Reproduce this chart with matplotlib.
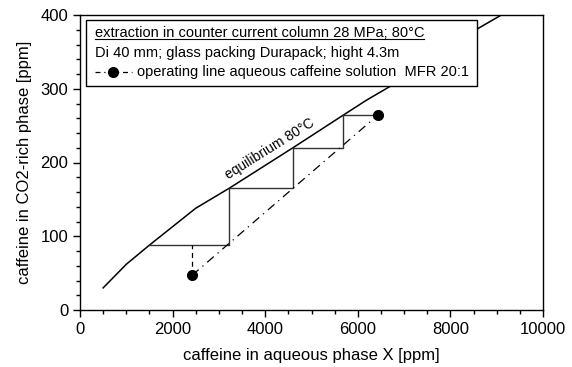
import matplotlib
matplotlib.use('Agg')
import matplotlib.pyplot as plt
from matplotlib.lines import Line2D
from matplotlib.patches import Rectangle
from matplotlib.ticker import MultipleLocator

plt.rcParams['font.family'] = ['Liberation Sans', 'DejaVu Sans']

# equilibrium curve 80 C
eq_x = [500, 1000, 1500, 2500, 3220, 4600, 5680, 6200, 6720, 8550, 9100, 9300]
eq_y = [30, 62, 88, 138, 165, 220, 264, 285, 304, 380, 400, 408]

# operating line (end points)
op_x = [2420, 6430]
op_y = [47, 264]

# McCabe-Thiele style steps
step_x = [1500, 3220, 3220, 4600, 4600, 5680, 5680, 6430]
step_y = [88, 88, 165, 165, 220, 220, 264, 264]

# dashed connector from lower point
conn_x = [2420, 2420]
conn_y = [47, 88]

fig = plt.figure(figsize=(5.72, 3.67), dpi=100)
ax = fig.add_axes([80 / 572, 1 - 310 / 367, 463 / 572, 295 / 367])

ax.plot(eq_x, eq_y, color='black', lw=1.1)
ax.plot(step_x, step_y, color='#333333', lw=1.0)
ax.plot(conn_x, conn_y, color='black', lw=0.9, ls=(0, (4, 3)))
ax.plot(op_x, op_y, color='black', lw=0.9, ls=(0, (7, 4, 1, 4)))
ax.plot(op_x, op_y, 'o', color='black', ms=7)

ax.text(4180, 211, 'equilibrium 80°C', rotation=32, rotation_mode='anchor',
        ha='center', va='bottom', fontsize=10)

ax.set_xlim(0, 10000)
ax.set_ylim(0, 400)
ax.xaxis.set_major_locator(MultipleLocator(2000))
ax.xaxis.set_minor_locator(MultipleLocator(500))
ax.yaxis.set_major_locator(MultipleLocator(100))
ax.yaxis.set_minor_locator(MultipleLocator(20))
ax.tick_params(which='major', direction='out', length=5, width=1, labelsize=12)
ax.tick_params(which='minor', direction='out', length=3, width=1)
for s in ax.spines.values():
    s.set_linewidth(1.0)

ax.set_xlabel('caffeine in aqueous phase X [ppm]', fontsize=12, labelpad=8)
ax.set_ylabel('caffeine in CO2-rich phase [ppm]', fontsize=12, labelpad=6)

# info box (pixel coords of figure)
W, H = 572, 367
box = Rectangle((86 / W, 1 - 86 / H), (477 - 86) / W, (86 - 20) / H,
                transform=fig.transFigure, facecolor='white',
                edgecolor='black', lw=1.0, zorder=5)
fig.add_artist(box)

fs = 10.5
t1 = fig.text(95 / W, 1 - 33 / H, 'extraction in counter current column 28 MPa; 80°C',
              fontsize=fs, va='center', ha='left', zorder=6)
fig.text(95 / W, 1 - 53 / H, 'Di 40 mm; glass packing Durapack; hight 4.3m',
         fontsize=fs, va='center', ha='left', zorder=6)
fig.text(137 / W, 1 - 72 / H, 'operating line aqueous caffeine solution  MFR 20:1',
         fontsize=fs, va='center', ha='left', zorder=6)
fig.add_artist(Line2D([95 / W, 132 / W], [1 - 72 / H, 1 - 72 / H],
                      transform=fig.transFigure, color='black', lw=0.9,
                      ls=(0, (4, 3, 1, 3)), zorder=6))
fig.add_artist(Line2D([113 / W], [1 - 72 / H], transform=fig.transFigure,
                      marker='o', color='black', ms=7, zorder=7))

# underline first line
fig.canvas.draw()
bb = t1.get_window_extent().transformed(fig.transFigure.inverted())
fig.add_artist(Line2D([bb.x0, bb.x1], [bb.y0 + 0.004, bb.y0 + 0.004],
                      transform=fig.transFigure, color='black', lw=0.8, zorder=6))

fig.savefig('out.png', dpi=100)
